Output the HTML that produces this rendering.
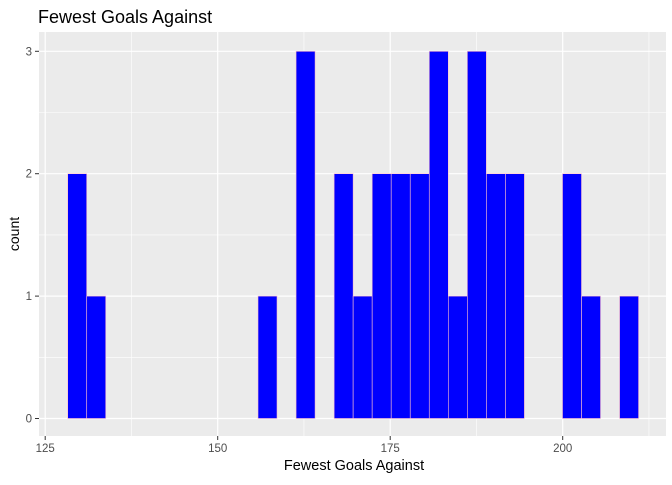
<!DOCTYPE html>
<html><head><meta charset="utf-8"><style>
body{margin:0;background:#fff;}
svg text{font-family:"Liberation Sans",Arial,sans-serif;}
</style></head><body>
<svg id="chart" width="672" height="480">
<text x="38" y="23" font-size="18" fill="#000">Fewest Goals Against</text>
<rect x="39" y="32" width="627" height="404" fill="#ebebeb"/>
<g id="grid"></g>
<g id="bars"></g>
<g id="axes"></g>
<text x="354" y="470" font-size="14.5" text-anchor="middle" fill="#000">Fewest Goals Against</text>
<text transform="translate(19,234) rotate(-90)" font-size="14" text-anchor="middle" fill="#000">count</text>
</svg>
<script>
const counts=[2,1,0,0,0,0,0,0,0,0,1,0,3,0,2,1,2,2,2,3,1,3,2,2,0,0,2,1,0,1];
const binStart=128.26;
const binWidth=2.758;
const xTicks=[125,150,175,200];
const yTicks=[0,1,2,3];
const NS="http://www.w3.org/2000/svg";
function X(v){return 45.2+(v-125)*6.9;}
function Y(c){return 418.5-c*122.4;}
const grid=document.getElementById('grid'),bars=document.getElementById('bars'),axes=document.getElementById('axes');
function mk(tag,attrs,parent){const e=document.createElementNS(NS,tag);for(const k in attrs)e.setAttribute(k,attrs[k]);parent.appendChild(e);return e;}
for(let i=0;i<xTicks.length;i++){const v=xTicks[i]+12.5;if(X(v)<666){const l=mk('line',{x1:X(v),x2:X(v),y1:32,y2:436,stroke:'#fff','stroke-width':0.6},grid);

}}
for(let i=0;i<yTicks.length-1;i++){const v=yTicks[i]+0.5;const l=mk('line',{x1:39,x2:666,y1:Y(v),y2:Y(v),stroke:'#fff','stroke-width':0.6},grid);

}
xTicks.forEach(t=>{const l=mk('line',{x1:X(t),x2:X(t),y1:32,y2:436,stroke:'#fff','stroke-width':1.2},grid);


const tk=mk('line',{x1:X(t),x2:X(t),y1:436,y2:440,stroke:'#333','stroke-width':1},axes);


const tx=mk('text',{x:X(t),y:452,'font-size':11.5,'text-anchor':'middle',fill:'#4d4d4d'},axes);tx.textContent=t;

});
yTicks.forEach(t=>{const l=mk('line',{x1:39,x2:666,y1:Y(t),y2:Y(t),stroke:'#fff','stroke-width':1.2},grid);


const tk=mk('line',{x1:35,x2:39,y1:Y(t),y2:Y(t),stroke:'#333','stroke-width':1},axes);


const tx=mk('text',{x:32,y:Y(t)+4,'font-size':11.5,'text-anchor':'end',fill:'#4d4d4d'},axes);tx.textContent=t;

});
counts.forEach((c,i)=>{const x0=X(binStart+i*binWidth),x1=X(binStart+(i+1)*binWidth);
const r=mk('rect',{x:x0,y:Y(c),width:x1-x0,height:Y(0)-Y(c),fill:'blue',stroke:'#ffc0cb','stroke-width':0.6},bars);

});
</script>
</body></html>
